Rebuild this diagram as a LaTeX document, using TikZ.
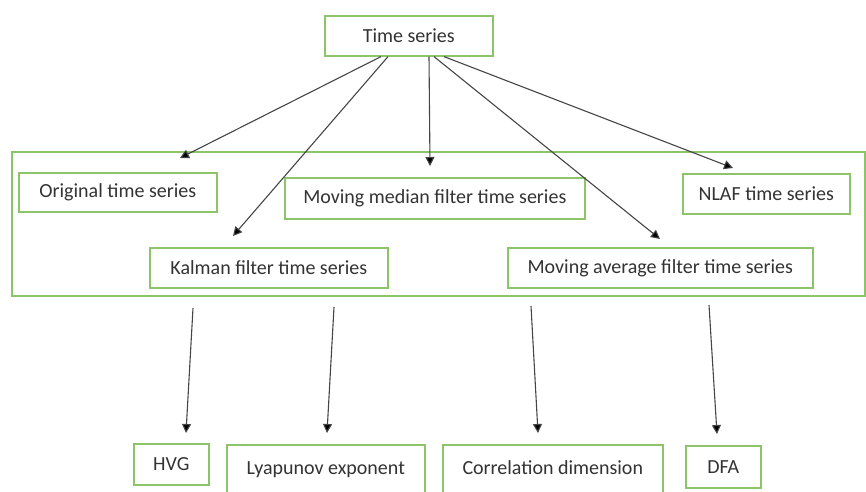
\documentclass[tikz,border=0pt]{standalone}
\usepackage{fontspec}
\setmainfont{Carlito}
\usetikzlibrary{arrows.meta}
\definecolor{boxgreen}{HTML}{8CC46A}
\definecolor{txtgray}{HTML}{333333}
\definecolor{arrgray}{HTML}{454545}
\tikzset{
  box/.style={draw=boxgreen, line width=1.6pt, fill=white, text=txtgray, font=\fontsize{20}{24}\selectfont, inner sep=0pt, anchor=north west},
  arr/.style={draw=arrgray, line width=1.1pt, -{Triangle[length=9pt,width=9pt,fill=black]}}
}
\newcommand{\pbox}[6]{% name, x1, y1, x2, y2, text
  \node[box, minimum width={(#4-#2)*1pt}, minimum height={(#5-#3)*1pt}] (#1) at (#2,#3) {#6};}
\begin{document}
\begin{tikzpicture}[x=1pt,y=-1pt]
\useasboundingbox (0,0) rectangle (866,491);
% container
\node[draw=boxgreen, line width=1.6pt, minimum width=853pt, minimum height=144pt, inner sep=0pt, anchor=north west] (cont) at (11,151) {};
\pbox{ts}{324}{15}{492}{55}{Time series}
\pbox{orig}{18}{172}{216}{211}{Original time series}
\pbox{median}{284}{177}{584}{218}{Moving median filter time series}
\pbox{nlaf}{682}{173}{849}{213}{NLAF time series}
\pbox{kalman}{149}{247}{387}{287}{Kalman filter time series}
\pbox{avg}{507}{247}{812}{287}{Moving average filter time series}
\pbox{hvg}{133}{443}{208}{484}{HVG}
\pbox{lyap}{226}{444}{424}{500}{\raisebox{10pt}{Lyapunov exponent}}
\pbox{corr}{442}{444}{662}{500}{\raisebox{10pt}{Correlation dimension}}
\pbox{dfa}{685}{445}{760}{487}{DFA}
% top arrow end points
\coordinate (tOrig) at (180,158);
\coordinate (tKal) at (233,236);
\coordinate (tMed) at (430,166);
\coordinate (tAvg) at (660,239);
\coordinate (tNlaf) at (733,168);
\draw[arr] (ts.south -| 381,0) -- (tOrig);
\draw[arr] (ts.south -| 388,0) -- (tKal);
\draw[arr] (ts.south -| 429,0) -- (tMed);
\draw[arr] (ts.south -| 434,0) -- (tAvg);
\draw[arr] (ts.south -| 444,0) -- (tNlaf);
% bottom arrows
\coordinate (sH) at (193,308);
\coordinate (eH) at (186,433);
\coordinate (sL) at (334,307);
\coordinate (eL) at (327,433);
\coordinate (sC) at (531,306);
\coordinate (eC) at (538,433);
\coordinate (sD) at (709,305);
\coordinate (eD) at (717,434);
\draw[arr] (sH) -- (eH);
\draw[arr] (sL) -- (eL);
\draw[arr] (sC) -- (eC);
\draw[arr] (sD) -- (eD);
\end{tikzpicture}
\end{document}
